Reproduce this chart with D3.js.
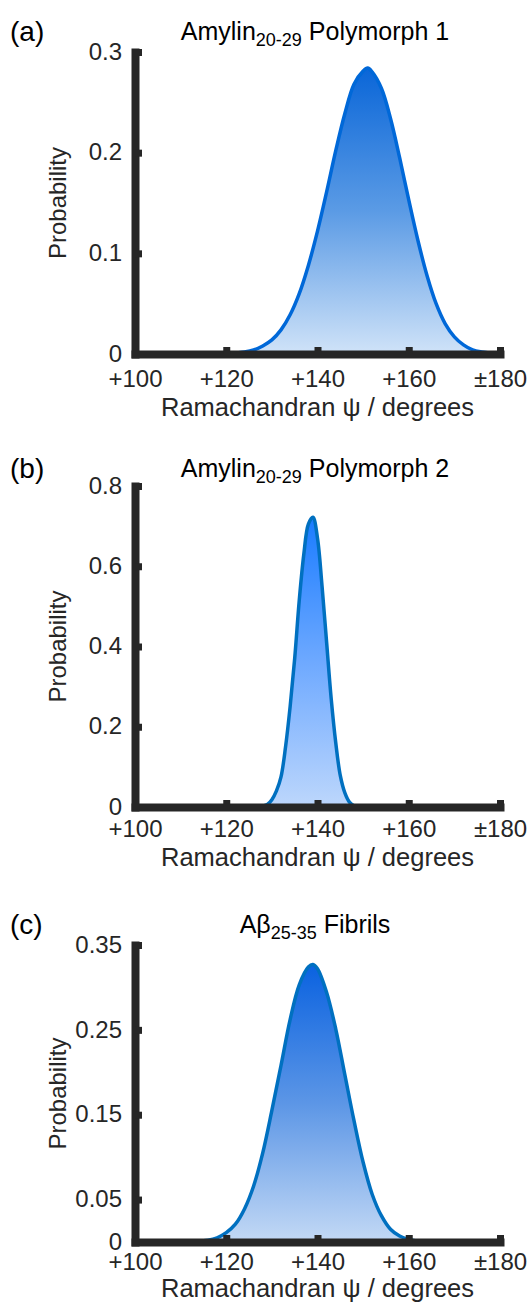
<!DOCTYPE html>
<html>
<head>
<meta charset="utf-8">
<script src="https://cdn.jsdelivr.net/npm/d3@7"></script>
<style>
  body { margin: 0; background: #fff; }
  svg { display: block; font-family: "Liberation Sans", Arial, sans-serif; }
</style>
</head>
<body>
<svg width="530" height="1303"></svg>
<script>
let xTicks = [100, 120, 140, 160, 180];
let xTickLabels = ["+100", "+120", "+140", "+160", "\u00b1180"];

// (a) Amylin 20-29 polymorph 1
let psiA = [100, 120, 122, 124, 126, 128, 130, 132, 134, 136, 138, 140, 142, 144, 146, 148, 150, 151, 152, 154, 156, 158, 160, 162, 164, 166, 168, 170, 172, 174, 176, 178, 180];
let probA = [0, 0, 0.001, 0.002, 0.004, 0.008, 0.014, 0.024, 0.039, 0.060, 0.088, 0.122, 0.161, 0.202, 0.239, 0.268, 0.281, 0.284, 0.280, 0.264, 0.234, 0.195, 0.153, 0.113, 0.078, 0.050, 0.030, 0.017, 0.009, 0.004, 0.002, 0.001, 0];
let yTicksA = [0, 0.1, 0.2, 0.3];

// (b) Amylin 20-29 polymorph 2
let psiB = [100, 126, 127, 128, 129, 130, 131, 132, 133, 134, 135, 136, 137, 138, 139, 140, 141, 142, 143, 144, 145, 146, 147, 148, 149, 150, 180];
let probB = [0, 0, 0, 0.002, 0.006, 0.018, 0.040, 0.075, 0.150, 0.250, 0.370, 0.515, 0.630, 0.705, 0.722, 0.670, 0.550, 0.410, 0.270, 0.160, 0.078, 0.035, 0.012, 0.003, 0, 0, 0];
let yTicksB = [0, 0.2, 0.4, 0.6, 0.8];

// (c) Abeta 25-35 fibrils
let psiC = [100, 112, 114, 116, 118, 120, 122, 124, 126, 128, 130, 132, 134, 136, 138, 139, 140, 142, 144, 146, 148, 150, 152, 154, 156, 158, 160, 162, 164, 180];
let probC = [0, 0, 0.001, 0.002, 0.005, 0.011, 0.021, 0.039, 0.066, 0.105, 0.155, 0.208, 0.262, 0.303, 0.324, 0.327, 0.322, 0.294, 0.251, 0.197, 0.143, 0.094, 0.056, 0.031, 0.015, 0.007, 0.003, 0.001, 0, 0];
let yTicksC = [0, 0.05, 0.15, 0.25, 0.35];

let ink = "#262626";
let s = d3.select("svg");
let defs = s.append("defs");

let x = d3.scaleLinear().domain([100, 180]).range([135, 500]);

let panels = [
    { tag: "(a)", t1: "Amylin", sub: "20-29", t2: " Polymorph 1", psi: psiA, prob: probA, ticks: yTicksA,
      top: 52, bottom: 354, titleY: 40, tickY: 33, labelY: 62,
      stroke: "#0068d8", grad: ["#0a66d8", "#5b9be5", "#d0e3f8"] },
    { tag: "(b)", t1: "Amylin", sub: "20-29", t2: " Polymorph 2", psi: psiB, prob: probB, ticks: yTicksB,
      top: 486, bottom: 807, titleY: 477, tickY: 30, labelY: 59,
      stroke: "#0070c0", grad: ["#1a7cff", "#6ea9ff", "#bdd7fc"] },
    { tag: "(c)", t1: "A\u03b2", sub: "25-35", t2: " Fibrils", psi: psiC, prob: probC, ticks: yTicksC,
      top: 945, bottom: 1242, titleY: 933, tickY: 28, labelY: 55,
      stroke: "#0070c0", grad: ["#0a62e0", "#5c96e6", "#c3d9f5"] }
];

panels.forEach((p, i) => {
    let yMax = p.ticks[p.ticks.length - 1];
    let y = d3.scaleLinear().domain([0, yMax]).range([p.bottom, p.top]);
    let pts = p.psi.map((v, k) => [v, p.prob[k]]);
    let curve = d3.curveCatmullRom.alpha(0.5);

    // gradient fill, dark at the peak, pale at the axis
    let g = defs.append("linearGradient")
        .attr("id", "fill" + i)
        .attr("x1", 0).attr("y1", 0).attr("x2", 0).attr("y2", 1);
    g.append("stop").attr("offset", 0).attr("stop-color", p.grad[0]);
    g.append("stop").attr("offset", 0.5).attr("stop-color", p.grad[1]);
    g.append("stop").attr("offset", 1).attr("stop-color", p.grad[2]);

    s.append("path")
        .datum(pts)
        .attr("fill", "url(#fill" + i + ")")
        .attr("d", d3.area().x(d => x(d[0])).y0(y(0)).y1(d => y(Math.max(0, d[1]))).curve(curve));

    s.append("path")
        .datum(pts)
        .attr("fill", "none")
        .attr("stroke", p.stroke)
        .attr("stroke-width", 3.5)
        .attr("d", d3.line().x(d => x(d[0])).y(d => y(d[1])).curve(curve));

    // x axis
    let xa = s.append("g")
        .attr("transform", "translate(0," + p.bottom + ")")
        .call(d3.axisBottom(x).tickValues(xTicks).tickFormat((d, k) => xTickLabels[k])
            .tickSizeInner(-7).tickSizeOuter(0));
    // y axis
    let ya = s.append("g")
        .attr("transform", "translate(" + x(100) + ",0)")
        .call(d3.axisLeft(y).tickValues(p.ticks).tickFormat(d => d === 0 ? "0" : String(d))
            .tickSizeInner(-7).tickSizeOuter(0));

    [xa, ya].forEach(a => {
        a.select(".domain").attr("stroke", ink).attr("stroke-width", 8).attr("stroke-linecap", "square");
        a.selectAll(".tick line").attr("stroke", ink).attr("stroke-width", 7);
        a.selectAll("text").attr("fill", ink).style("font-size", "24px")
            .style("font-family", "'Liberation Sans', Arial, sans-serif");
    });
    xa.selectAll(".tick text").attr("y", p.tickY).attr("dy", 0);
    ya.selectAll(".tick text").attr("x", -13).attr("dy", "0.3em");

    // axis titles
    s.append("text")
        .attr("x", (x(100) + x(180)) / 2)
        .attr("y", p.bottom + p.labelY)
        .attr("text-anchor", "middle")
        .attr("fill", ink)
        .style("font-size", "25.5px")
        .text("Ramachandran \u03c8 / degrees");

    s.append("text")
        .attr("transform", "translate(66," + (p.top + p.bottom) / 2 + ") rotate(-90)")
        .attr("text-anchor", "middle")
        .attr("fill", ink)
        .style("font-size", "24px")
        .text("Probability");

    // panel title with subscript
    let t = s.append("text")
        .attr("x", 315)
        .attr("y", p.titleY)
        .attr("text-anchor", "middle")
        .attr("fill", "#000")
        .style("font-size", "25px");
    t.append("tspan").text(p.t1);
    t.append("tspan").attr("dy", 6).style("font-size", "18px").text(p.sub);
    t.append("tspan").attr("dy", -6).text(p.t2);

    s.append("text")
        .attr("x", 10)
        .attr("y", p.titleY + 1)
        .attr("fill", "#000")
        .style("font-size", "28px")
        .text(p.tag);
});
</script>
</body>
</html>
